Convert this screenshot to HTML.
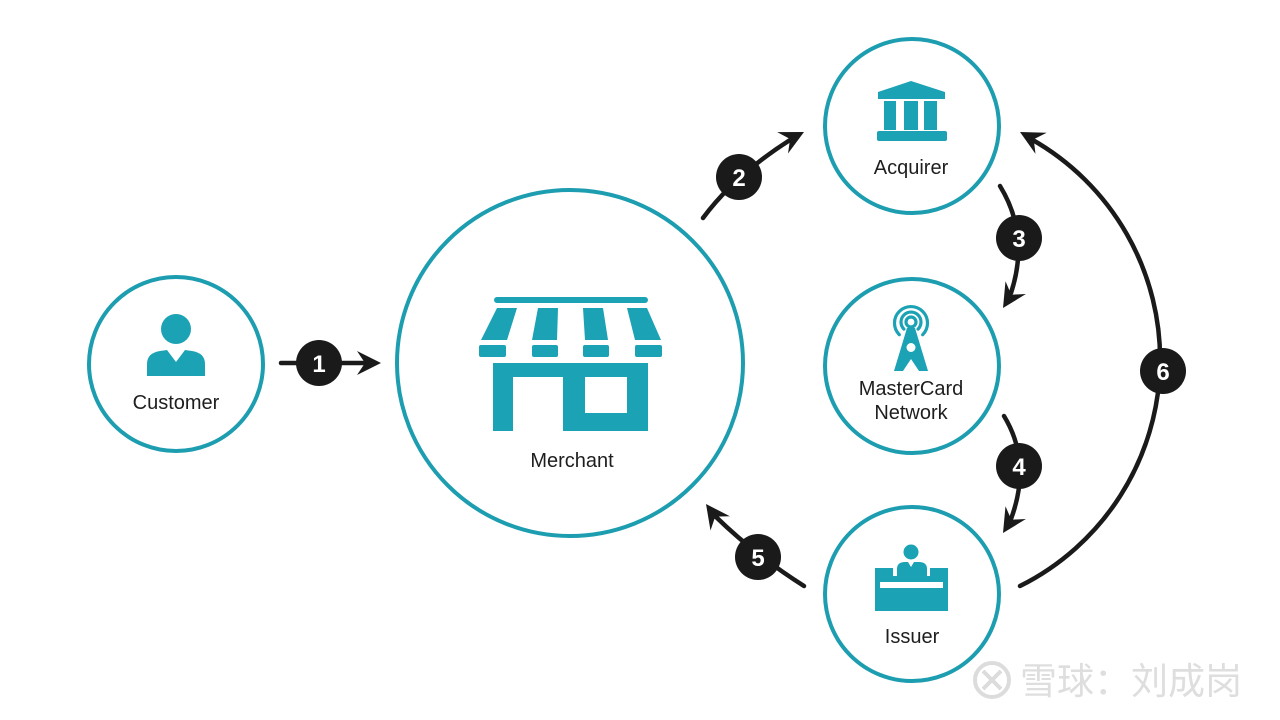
<!DOCTYPE html>
<html>
<head>
<meta charset="utf-8">
<style>
  html,body{margin:0;padding:0;background:#fff;}
  svg{display:block;}
  .lbl{font-family:"Liberation Sans","DejaVu Sans",sans-serif;font-size:20px;fill:#1e1e1e;text-anchor:middle;}
  .num{font-family:"Liberation Sans","DejaVu Sans",sans-serif;font-size:24px;font-weight:bold;fill:#fff;text-anchor:middle;}
  .wm{font-family:"Liberation Sans","Noto Sans CJK SC","WenQuanYi Zen Hei",sans-serif;font-size:37px;fill:#dedede;}
</style>
</head>
<body>
<svg width="1280" height="720" viewBox="0 0 1280 720" xmlns="http://www.w3.org/2000/svg">
  <rect width="1280" height="720" fill="#fff"/>

  <!-- Circles -->
  <g fill="none" stroke="#1d9db0" stroke-width="4">
    <circle cx="176" cy="364" r="87"/>
    <circle cx="570" cy="363" r="173"/>
    <circle cx="912" cy="126" r="87"/>
    <circle cx="912" cy="366" r="87"/>
    <circle cx="912" cy="594" r="87"/>
  </g>

  <!-- Customer icon -->
  <g fill="#1ba2b5">
    <circle cx="176" cy="329" r="15"/>
    <path d="M147,376 L147,364 Q147,353 160,351 L167,350 L176,362 L185,350 L192,351 Q205,353 205,364 L205,376 Z"/>
  </g>
  <text class="lbl" x="176" y="409">Customer</text>

  <!-- Merchant icon -->
  <g fill="#1ba2b5">
    <rect x="494" y="297" width="154" height="6" rx="3"/>
    <polygon points="497,308 517,308 507,340 481,340"/>
    <polygon points="538,308 558,308 557,340 532,340"/>
    <polygon points="583,308 603,308 608,340 585,340"/>
    <polygon points="627,308 647,308 661,340 635,340"/>
    <rect x="479" y="345" width="27" height="12" rx="2"/>
    <rect x="532" y="345" width="26" height="12" rx="2"/>
    <rect x="583" y="345" width="26" height="12" rx="2"/>
    <rect x="635" y="345" width="27" height="12" rx="2"/>
    <path fill-rule="evenodd" d="M493,363 L648,363 L648,431 L563,431 L563,377 L513,377 L513,431 L493,431 Z M585,377 L627,377 L627,413 L585,413 Z"/>
  </g>
  <text class="lbl" x="572" y="467">Merchant</text>

  <!-- Acquirer icon -->
  <g fill="#1ba2b5">
    <polygon points="878,92 911,81 945,92 945,99 878,99"/>
    <rect x="884" y="101" width="12" height="29"/>
    <rect x="904" y="101" width="14" height="29"/>
    <rect x="924" y="101" width="13" height="29"/>
    <rect x="877" y="131" width="70" height="10" rx="2"/>
  </g>
  <text class="lbl" x="911" y="174">Acquirer</text>

  <!-- MasterCard network icon -->
  <g stroke="#1ba2b5" stroke-width="3.2" fill="none" stroke-linecap="round">
    <circle cx="911" cy="322" r="5"/>
    <path d="M903.9,329.1 A10,10 0 1 1 918.1,329.1"/>
    <path d="M899.3,334.7 A16.5,16.5 0 1 1 922.7,334.7"/>
  </g>
  <g fill="#1ba2b5">
    <path fill-rule="evenodd" d="M907,328 L915,328 L928,371 L919,371 L911,359 L903,371 L894,371 Z M911,343 A4.5,4.5 0 1 0 911,352 A4.5,4.5 0 1 0 911,343 Z"/>
  </g>
  <text class="lbl" x="911" y="395">MasterCard</text>
  <text class="lbl" x="911" y="419">Network</text>

  <!-- Issuer icon -->
  <g fill="#1ba2b5">
    <circle cx="911" cy="552" r="7.5"/>
    <path d="M897,576 L897,569 Q897,562 905,562 L908,562 L911,567 L914,562 L919,562 Q927,562 927,569 L927,576 Z"/>
    <rect x="875" y="568" width="18" height="10"/>
    <rect x="930" y="568" width="18" height="10"/>
    <rect x="875" y="576" width="73" height="35"/>
  </g>
  <rect x="880" y="582" width="63" height="6" fill="#fff"/>
  <text class="lbl" x="912" y="643">Issuer</text>

  <!-- Connectors -->
  <g stroke="#1a1a1a" stroke-width="4.5" fill="none" stroke-linecap="round">
    <line x1="281" y1="363" x2="368" y2="363"/>
    <path d="M703,218 Q735,175 790,140"/>
    <path d="M1000,186 Q1030,235 1011,293"/>
    <path d="M1004,416 Q1032,462 1011,519"/>
    <path d="M804,586 Q755,555 715,516"/>
    <path d="M1020,586 A253,253 0 0 0 1031,139"/>
  </g>

  <!-- Arrowheads -->
  <g fill="#1a1a1a">
    <polygon points="381,363 357,375 365,363 357,351"/>
    <polygon points="804,132 788,153.5 790.1,139 777.2,132.1"/>
    <polygon points="1003,308 1025.9,294 1011.3,294.7 1005.5,281.2"/>
    <polygon points="1003,533 1025.9,519 1011.3,519.7 1005.5,506.2"/>
    <polygon points="706,504 729.9,516.3 715.2,516.6 710.5,530.5"/>
    <polygon points="1020,132 1046.7,132.7 1033.7,139.3 1035.5,153.9"/>
  </g>

  <!-- Badges -->
  <g fill="#1a1a1a">
    <circle cx="319" cy="363" r="23"/>
    <circle cx="739" cy="177" r="23"/>
    <circle cx="1019" cy="238" r="23"/>
    <circle cx="1019" cy="466" r="23"/>
    <circle cx="758" cy="557" r="23"/>
    <circle cx="1163" cy="371" r="23"/>
  </g>
  <text class="num" x="319" y="372">1</text>
  <text class="num" x="739" y="186">2</text>
  <text class="num" x="1019" y="247">3</text>
  <text class="num" x="1019" y="475">4</text>
  <text class="num" x="758" y="566">5</text>
  <text class="num" x="1163" y="380">6</text>

  <!-- Watermark -->
  <g fill="none" stroke="#dcdcdc" stroke-width="4">
    <circle cx="992" cy="680" r="17"/>
    <path d="M983,671 L1001,689 M1001,671 L983,689"/>
  </g>
  <text class="wm" x="1020" y="694">雪球：刘成岗</text>
</svg>
</body>
</html>
